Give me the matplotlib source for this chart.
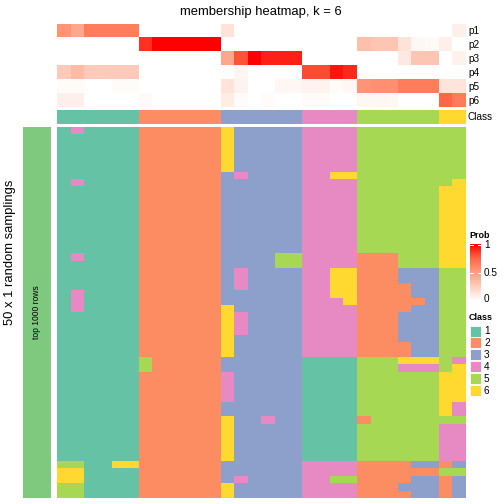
import numpy as np
import matplotlib.pyplot as plt
from matplotlib.colors import ListedColormap, LinearSegmentedColormap
from matplotlib.patches import Rectangle

plt.rcParams['font.family'] = ['Liberation Sans', 'DejaVu Sans']

# class palette and per-column class
class_colors = ["#66C2A5", "#FC8D62", "#8DA0CB", "#E78AC3", "#A6D854", "#FFD92F"]
class_labels = ["1", "2", "3", "4", "5", "6"]
col_class = [1, 1, 1, 1, 1, 1, 2, 2, 2, 2, 2, 2, 3, 3, 3, 3, 3, 3,
             4, 4, 4, 4, 5, 5, 5, 5, 5, 5, 6, 6]

# membership probabilities (top annotation)
prob_names = ["p1", "p2", "p3", "p4", "p5", "p6"]
p1 = [0.55, 0.45, 0.65, 0.65, 0.65, 0.65, 0, 0, 0, 0, 0, 0,
      0.15, 0, 0, 0, 0, 0, 0, 0, 0, 0, 0, 0, 0, 0, 0, 0, 0, 0.08]
p2 = [0, 0, 0, 0, 0, 0, 0.88, 1, 1, 1, 1, 1,
      0, 0, 0, 0, 0, 0, 0, 0, 0, 0, 0.33, 0.3, 0.3, 0.15, 0.04, 0.03, 0.08, 0]
p3 = [0, 0, 0, 0, 0, 0, 0, 0, 0, 0, 0, 0,
      0.45, 0.8, 1, 0.92, 0.92, 0.92, 0, 0, 0, 0, 0, 0, 0, 0.12, 0.3, 0.3, 0, 0.07]
p4 = [0.27, 0.35, 0.27, 0.27, 0.27, 0.27, 0, 0, 0, 0, 0, 0,
      0, 0.05, 0, 0, 0, 0, 0.82, 0.82, 0.95, 0.9, 0, 0, 0, 0, 0, 0, 0, 0]
p5 = [0.02, 0.02, 0, 0, 0.02, 0.02, 0, 0, 0, 0, 0, 0,
      0.14, 0.06, 0, 0, 0.04, 0.04, 0.06, 0.06, 0.02, 0.04, 0.55, 0.57, 0.57, 0.65, 0.65, 0.65, 0.14, 0.14]
p6 = [0.08, 0.08, 0, 0, 0, 0, 0.03, 0, 0, 0, 0, 0,
      0.1, 0.02, 0, 0.02, 0, 0, 0.02, 0.02, 0, 0, 0.04, 0.04, 0.04, 0, 0, 0, 0.75, 0.66]

# class calls for 50 random samplings x 30 samples
membership = [
    "141111222222633333444455555555",
    "111111222222633333444455555555",
    "111111222222633333444455555555",
    "111111222222633333444455555555",
    "111111222222633333444455555555",
    "111111222222633333444455555555",
    "111111222222343333446655555555",
    "141111222222333333444455555556",
    "111111222222333333444455555566",
    "111111222222333333444455555566",
    "111111222222333333444455555566",
    "111111222222333333444455555566",
    "111111222222333333444455555566",
    "111111222222333333444455555566",
    "111111222222333333444455555566",
    "111111222222333333444455555566",
    "111111222222333333444455555566",
    "141111222222333355444422255566",
    "111111222222333355444422255566",
    "111111222222343333446622233355",
    "111111222222343333446622233355",
    "111111222222343333446622223355",
    "141111222222333333446622223355",
    "141111222222333333444622222355",
    "141111222222633333444422223355",
    "111111222222643333444422233355",
    "111111222222643333444422233355",
    "111111222222643333444422233355",
    "111111222222633333444422233355",
    "111111222222633333444422223355",
    "111111222222633333444422223355",
    "111111522222333333111155566654",
    "111111522222333333111155544456",
    "111111222222433333111155555566",
    "111111222222433333111155555566",
    "111111222222433333111155555566",
    "111111222222433333111155555566",
    "111111222222333333111155555564",
    "111111222222333333111155555564",
    "111111222222633433111125555555",
    "111111222222633333111155555544",
    "111111222222633333111155555544",
    "111111222222633333111155555544",
    "111111222222633333111155555544",
    "111111222222633333111155555544",
    "551166222222333333444422223323",
    "661111222222333333444422222255",
    "661111222222343333445522223323",
    "551111222222633333444422233323",
    "551111222222633333444422223323",
]

W = H = 504
fig = plt.figure(figsize=(7, 7), dpi=72)


def px_axes(x0, y0, x1, y1):
    ax = fig.add_axes([x0 / W, 1 - y1 / H, (x1 - x0) / W, (y1 - y0) / H])
    ax.set_axis_off()
    return ax


class_cmap = ListedColormap(class_colors)
# white -> red interpolated in Lab space (approximated with stops)
prob_cmap = LinearSegmentedColormap.from_list(
    "prob", ["#FFFFFF", "#FFCFBF", "#FF9E81", "#FF6846", "#FF0000"])

hx0, hx1 = 56.7, 465.3
pt0, pt1 = 24, 107.5

# probability rows
ax_p = px_axes(hx0, pt0, hx1, pt1)
P = np.array([p1, p2, p3, p4, p5, p6])
ax_p.imshow(P, cmap=prob_cmap, vmin=0, vmax=1, aspect='auto', interpolation='nearest')

# class row
ax_c = px_axes(hx0, 110.3, hx1, 123.7)
ax_c.imshow(np.array([col_class]) - 1, cmap=class_cmap, vmin=-0.5, vmax=5.5,
            aspect='auto', interpolation='nearest')

# main heatmap
ax_m = px_axes(hx0, 126.7, hx1, 497.5)
M = np.array([[int(c) for c in row] for row in membership]) - 1
ax_m.imshow(M, cmap=class_cmap, vmin=-0.5, vmax=5.5, aspect='auto', interpolation='nearest')

# left annotation bar
ax_l = px_axes(22.7, 126.7, 51, 497.5)
ax_l.add_patch(Rectangle((0, 0), 1, 1, color="#7FC97F", transform=ax_l.transAxes))
ax_l.text(0.5, 0.5, "top 1000 rows", rotation=90, ha='center', va='center',
          fontsize=8.5, transform=ax_l.transAxes)

# overlay for texts and legends in pixel coords
ov = fig.add_axes([0, 0, 1, 1])
ov.set_xlim(0, W)
ov.set_ylim(H, 0)
ov.set_axis_off()

ov.text(261, 12.5, "membership heatmap, k = 6", ha='center', va='center', fontsize=13)
ov.text(10, 252, "50 x 1 random samplings", rotation=90, ha='center', va='center', fontsize=13)

row_h = (pt1 - pt0) / 6
for i, name in enumerate(prob_names):
    ov.text(468, pt0 + row_h * (i + 0.5), name, ha='left', va='center', fontsize=10)
ov.text(468, 117, "Class", ha='left', va='center', fontsize=10)

# Prob legend
ov.text(469, 236, "Prob", ha='left', va='center', fontsize=9, fontweight='bold')
ax_cb = px_axes(470, 244, 481, 301)
grad = np.linspace(1, 0, 200)[:, None]
ax_cb.imshow(grad, cmap=prob_cmap, vmin=0, vmax=1, aspect='auto',
             extent=[0, 1, 0, 1], interpolation='bilinear')
for t in [0.5, 0.985]:
    ax_cb.plot([0, 0.25], [t, t], color='white', lw=1)
    ax_cb.plot([0.75, 1], [t, t], color='white', lw=1)
ax_cb.set_xlim(0, 1)
ax_cb.set_ylim(0, 1)
for v, y in [("1", 245.5), ("0.5", 272.5), ("0", 299.5)]:
    ov.text(484, y, v, ha='left', va='center', fontsize=10)

# Class legend
ov.text(469, 318, "Class", ha='left', va='center', fontsize=9, fontweight='bold')
for i, (lab, col) in enumerate(zip(class_labels, class_colors)):
    y = 331 + 11.9 * i
    ov.add_patch(Rectangle((470, y - 5.5), 11, 11, facecolor=col, edgecolor='white', lw=0.8))
    ov.text(484, y, lab, ha='left', va='center', fontsize=10)

fig.savefig("out.png", dpi=72)
